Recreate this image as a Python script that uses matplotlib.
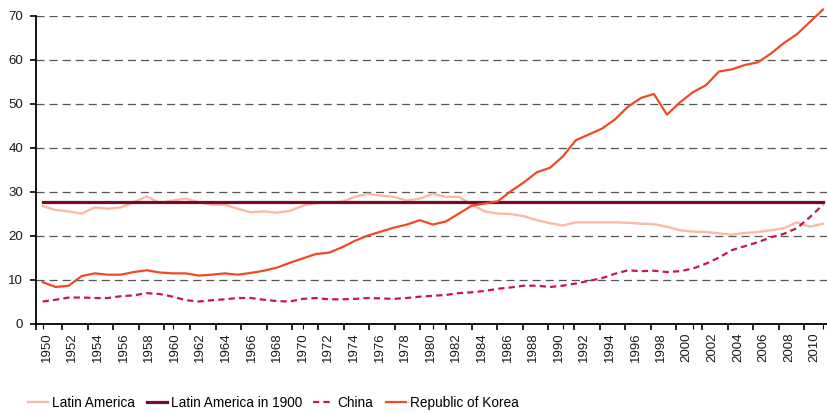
import numpy as np
import matplotlib.pyplot as plt

plt.rcParams['font.family'] = ['Liberation Sans', 'DejaVu Sans']
plt.rcParams['lines.scale_dashes'] = False

years = list(range(1950, 2011))

latin = [26.7, 25.8, 25.5, 25.0, 26.4, 26.1, 26.4, 27.6, 28.9, 27.4,
         28.0, 28.4, 27.6, 27.0, 27.0, 26.1, 25.3, 25.5, 25.2, 25.6,
         26.8, 27.4, 27.5, 27.7, 28.8, 29.5, 29.1, 28.8, 28.0, 28.4,
         29.5, 28.8, 28.8, 27.0, 25.5, 25.0, 24.9, 24.4, 23.5, 22.8,
         22.3, 23.0, 23.0, 23.0, 23.0, 22.9, 22.7, 22.6, 22.0, 21.2,
         20.9, 20.8, 20.5, 20.2, 20.6, 20.8, 21.2, 21.7, 23.0, 22.0,
         22.7]

latin_1900 = [27.6] * len(years)

china = [5.0, 5.4, 5.9, 5.9, 5.8, 5.8, 6.2, 6.4, 6.9, 6.7,
         6.1, 5.3, 5.0, 5.3, 5.5, 5.8, 5.8, 5.4, 5.1, 5.0,
         5.6, 5.8, 5.5, 5.5, 5.6, 5.8, 5.7, 5.6, 5.8, 6.1,
         6.3, 6.5, 6.9, 7.1, 7.4, 7.9, 8.2, 8.6, 8.6, 8.3,
         8.6, 9.1, 9.7, 10.3, 11.3, 12.1, 11.9, 12.0, 11.7, 11.9,
         12.5, 13.6, 15.0, 16.7, 17.6, 18.5, 19.6, 20.4, 21.7, 24.2,
         27.0]

korea = [9.4, 8.3, 8.6, 10.8, 11.4, 11.1, 11.1, 11.7, 12.1, 11.6,
         11.4, 11.4, 10.9, 11.1, 11.4, 11.1, 11.5, 12.0, 12.7, 13.8,
         14.8, 15.8, 16.1, 17.3, 18.8, 20.0, 20.9, 21.8, 22.5, 23.5,
         22.5, 23.2, 25.0, 26.8, 27.3, 27.8, 30.1, 32.1, 34.4, 35.4,
         38.0, 41.7, 43.0, 44.3, 46.4, 49.3, 51.3, 52.2, 47.5, 50.3,
         52.6, 54.2, 57.3, 57.8, 58.8, 59.4, 61.4, 63.8, 65.8, 68.6,
         71.4]

label_years = list(range(1950, 2011, 2))
yticks = list(range(0, 71, 10))

W, H = 828, 413
fig = plt.figure(figsize=(W / 100, H / 100), dpi=100)
left_px, bottom_px, top_px = 36.3, 323.5, 15.7
ax = fig.add_axes([left_px / W, (H - bottom_px) / H,
                   (W - left_px) / W, (bottom_px - top_px) / H])

l1, = ax.plot(years, latin, color='#F9BBA5', lw=1.7, label='Latin America')
l3, = ax.plot(years, china, color='#CC1449', lw=1.6, dashes=(4.5, 3),
              label='China')
l2, = ax.plot(years, latin_1900, color='#7A0A2C', lw=2.3,
              label='Latin America in 1900')
l4, = ax.plot(years, korea, color='#EF4A26', lw=1.6, label='Republic of Korea',
              clip_on=False)

# data points sit a little wider apart than the category ticks below
ax.set_xlim(1950 - 6.4 / 13.005, 2010 + 5 / 13.005)
ax.set_ylim(0, 70)
ax.set_yticks(yticks)
ax.grid(axis='y', color='#555555', lw=0.9, linestyle=(0, (5.8, 3.6)))
ax.set_axisbelow(True)
for s in ['top', 'right']:
    ax.spines[s].set_visible(False)
for s in ['left', 'bottom']:
    ax.spines[s].set_linewidth(1.3)
    ax.spines[s].set_color('black')
ax.tick_params(axis='y', length=4, width=1.2, pad=5.5, labelsize=9.5,
               labelcolor='#1a1a1a')
ax.tick_params(axis='x', which='both', bottom=False, labelbottom=False)

# category axis for the year labels
ax2 = ax.twiny()
ax2.set_xlim(1949.5, 1949.5 + (W - left_px) / 12.8)
for s in ax2.spines.values():
    s.set_visible(False)
ax2.xaxis.set_ticks_position('bottom')
ax2.xaxis.set_label_position('bottom')
ax2.set_xticks([y + 4 / 12.8 for y in label_years])
ax2.set_xticklabels([str(y) for y in label_years], rotation=90)
ax2.set_xticks([y - 0.5 for y in label_years], minor=True)
ax2.tick_params(axis='x', which='major', length=0, pad=6.5, labelsize=9.5,
                labelcolor='#1a1a1a')
ax2.tick_params(axis='x', which='minor', length=4, width=1.2, color='black')

# one legend entry per slot, placed like the original
handles = [l1, l2, l3, l4]
slots_px = [28, 147, 313, 386]
for h, x in zip(handles, slots_px):
    fig.legend([h], [h.get_label()], loc='center left',
               bbox_to_anchor=(x / W, 0.024), frameon=False,
               borderpad=0, borderaxespad=0, handlelength=1.45,
               handletextpad=0.3, prop=dict(size=9.8))

fig.savefig('out.png', dpi=100)
